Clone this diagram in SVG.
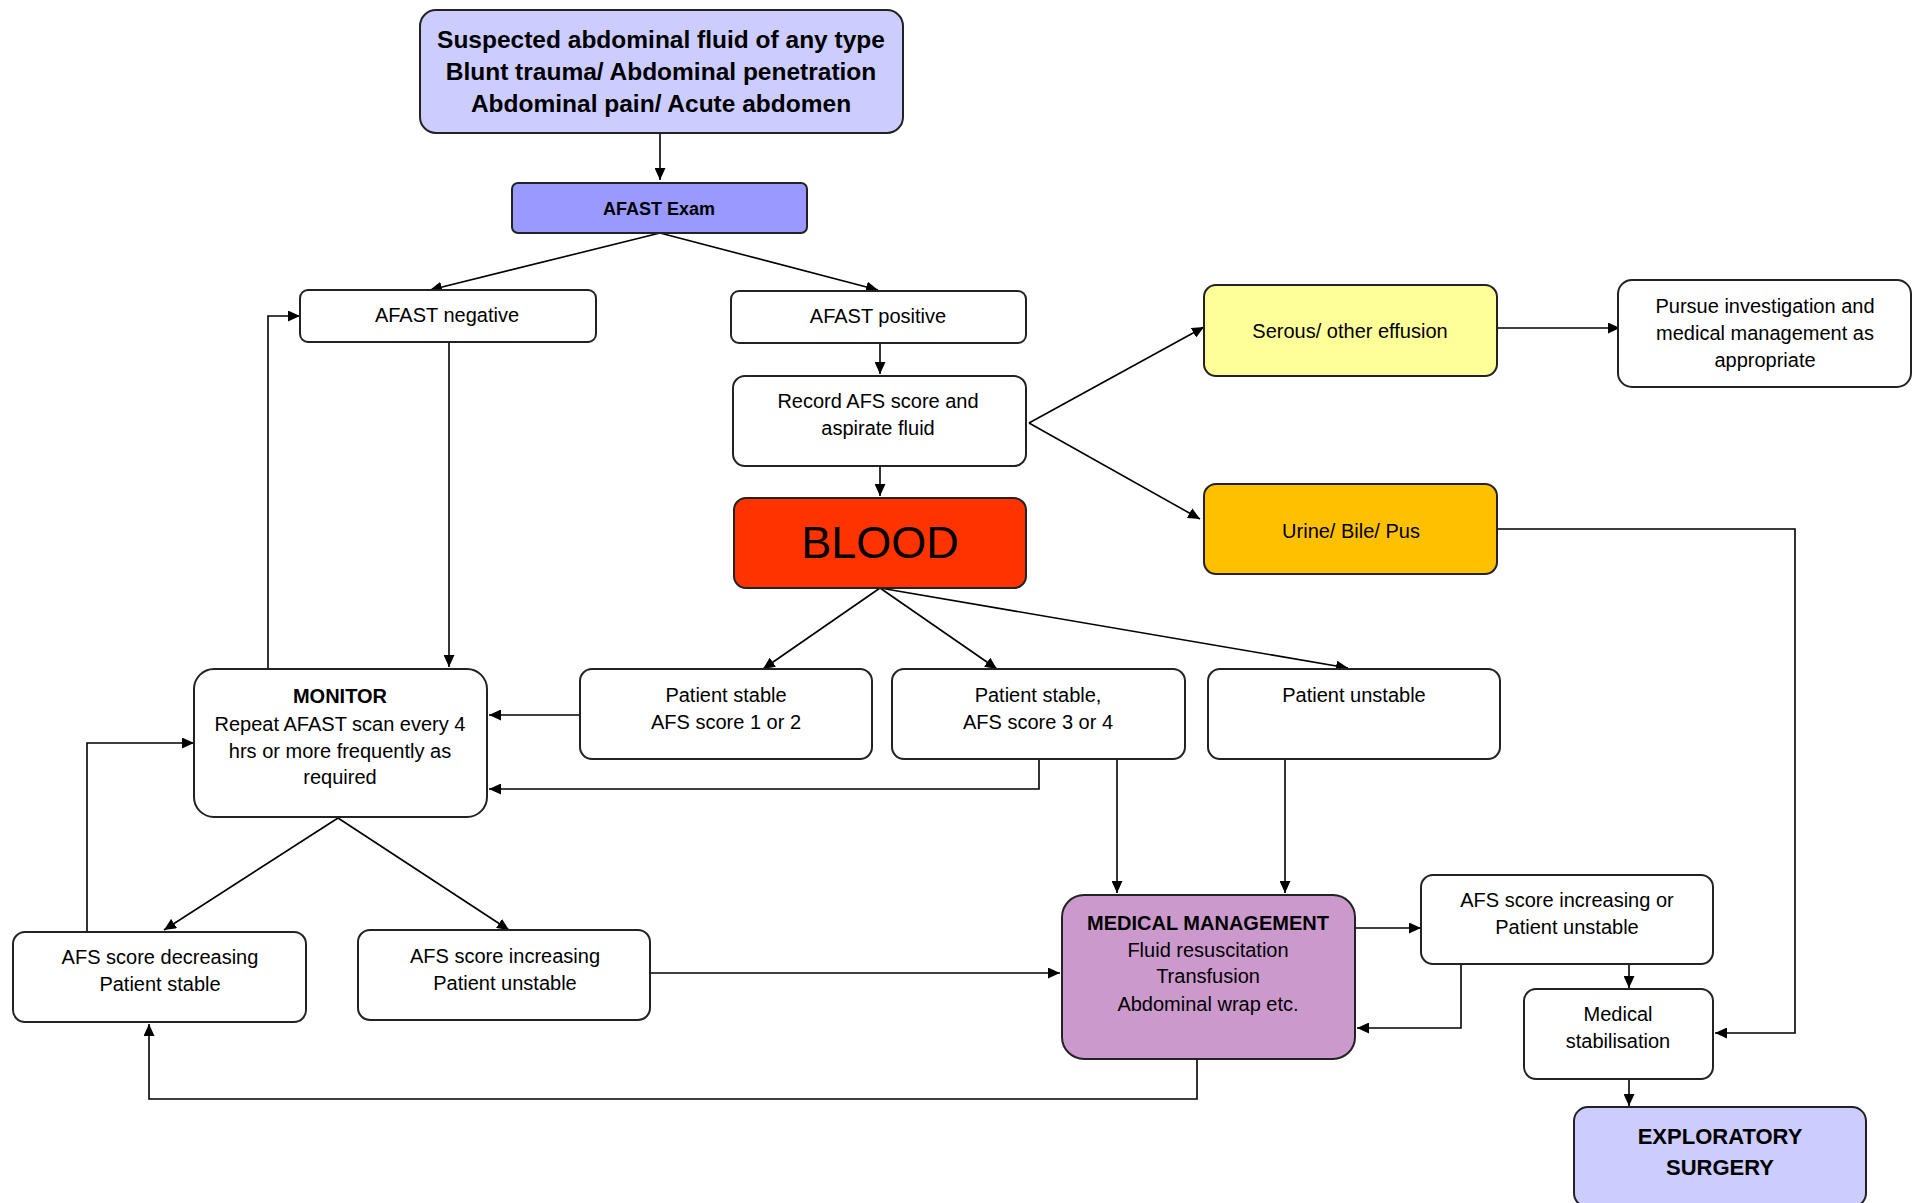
<svg xmlns="http://www.w3.org/2000/svg" width="1914" height="1203" viewBox="0 0 1914 1203">
<style>
.box{stroke:#222;stroke-width:2}
.w{fill:#fff}
.t{font-family:"Liberation Sans",Arial,sans-serif;font-size:20px;fill:#000;text-anchor:middle}
.b{font-weight:bold}
.c{fill:none;stroke:#000;stroke-width:1.6}
</style>
<defs>
<marker id="ah" markerUnits="userSpaceOnUse" markerWidth="12" markerHeight="11" refX="12" refY="5.5" orient="auto">
<path d="M0,0 L12,5.5 L0,11 z" fill="#000"/>
</marker>
</defs>
<rect width="1914" height="1203" fill="#fff"/>

<g id="connectors">
<path class="c" d="M660,133 V180" marker-end="url(#ah)"/>
<path class="c" d="M660,233 L430,290" marker-end="url(#ah)"/>
<path class="c" d="M660,233 L878,290" marker-end="url(#ah)"/>
<path class="c" d="M880,343 V374" marker-end="url(#ah)"/>
<path class="c" d="M880,466 V496" marker-end="url(#ah)"/>
<path class="c" d="M1029,423 L1204,327" marker-end="url(#ah)"/>
<path class="c" d="M1029,423 L1200,519" marker-end="url(#ah)"/>
<path class="c" d="M1497,328 H1620" marker-end="url(#ah)"/>
<path class="c" d="M1497,529 H1795 V1033 H1715" marker-end="url(#ah)"/>
<path class="c" d="M880,588 L763,669" marker-end="url(#ah)"/>
<path class="c" d="M880,588 L997,669" marker-end="url(#ah)"/>
<path class="c" d="M880,588 L1348,668" marker-end="url(#ah)"/>
<path class="c" d="M449,342 V667" marker-end="url(#ah)"/>
<path class="c" d="M268,669 V316 H300" marker-end="url(#ah)"/>
<path class="c" d="M580,715 H489" marker-end="url(#ah)"/>
<path class="c" d="M1039,759 V789 H489" marker-end="url(#ah)"/>
<path class="c" d="M1117,759 V893" marker-end="url(#ah)"/>
<path class="c" d="M1285,759 V893" marker-end="url(#ah)"/>
<path class="c" d="M338,818 L164,930" marker-end="url(#ah)"/>
<path class="c" d="M338,818 L509,930" marker-end="url(#ah)"/>
<path class="c" d="M87,932 V743 H194" marker-end="url(#ah)"/>
<path class="c" d="M650,973 H1060" marker-end="url(#ah)"/>
<path class="c" d="M1197,1059 V1099 H149 V1024" marker-end="url(#ah)"/>
<path class="c" d="M1355,928 H1421" marker-end="url(#ah)"/>
<path class="c" d="M1461,964 V1028 H1357" marker-end="url(#ah)"/>
<path class="c" d="M1629,964 V988" marker-end="url(#ah)"/>
<path class="c" d="M1629,1079 V1106" marker-end="url(#ah)"/>
</g>

<g id="n-start">
<rect class="box" x="420" y="10" width="483" height="123" rx="16" fill="#ccccff"/>
<text class="t b" x="661" y="48" style="font-size:24.5px">Suspected abdominal fluid of any type</text>
<text class="t b" x="661" y="80" style="font-size:24.5px">Blunt trauma/ Abdominal penetration</text>
<text class="t b" x="661" y="112" style="font-size:24.5px">Abdominal pain/ Acute abdomen</text>
</g>

<g id="n-afast">
<rect class="box" x="512" y="183" width="295" height="50" rx="6" fill="#9999ff"/>
<text class="t b" x="659" y="215" style="font-size:18px">AFAST Exam</text>
</g>

<g id="n-neg">
<rect class="box w" x="300" y="290" width="296" height="52" rx="8"/>
<text class="t" x="447" y="322">AFAST negative</text>
</g>

<g id="n-pos">
<rect class="box w" x="731" y="291" width="295" height="52" rx="8"/>
<text class="t" x="878" y="323">AFAST positive</text>
</g>

<g id="n-record">
<rect class="box w" x="733" y="376" width="293" height="90" rx="12"/>
<text class="t" x="878" y="408">Record AFS score and</text>
<text class="t" x="878" y="435">aspirate fluid</text>
</g>

<g id="n-blood">
<rect class="box" x="734" y="498" width="292" height="90" rx="12" fill="#ff3300"/>
<text class="t" x="880" y="558" style="font-size:45px">BLOOD</text>
</g>

<g id="n-serous">
<rect class="box" x="1204" y="285" width="293" height="91" rx="12" fill="#ffff99"/>
<text class="t" x="1350" y="338">Serous/ other effusion</text>
</g>

<g id="n-pursue">
<rect class="box w" x="1618" y="280" width="293" height="107" rx="14"/>
<text class="t" x="1765" y="313">Pursue investigation and</text>
<text class="t" x="1765" y="340">medical management as</text>
<text class="t" x="1765" y="367">appropriate</text>
</g>

<g id="n-urine">
<rect class="box" x="1204" y="484" width="293" height="90" rx="12" fill="#ffc000"/>
<text class="t" x="1351" y="538">Urine/ Bile/ Pus</text>
</g>

<g id="n-monitor">
<rect class="box w" x="194" y="669" width="293" height="148" rx="20"/>
<text class="t b" x="340" y="703">MONITOR</text>
<text class="t" x="340" y="731">Repeat AFAST scan every 4</text>
<text class="t" x="340" y="758">hrs or more frequently as</text>
<text class="t" x="340" y="784">required</text>
</g>

<g id="n-stable12">
<rect class="box w" x="580" y="669" width="292" height="90" rx="12"/>
<text class="t" x="726" y="702">Patient stable</text>
<text class="t" x="726" y="729">AFS score 1 or 2</text>
</g>

<g id="n-stable34">
<rect class="box w" x="892" y="669" width="293" height="90" rx="12"/>
<text class="t" x="1038" y="702">Patient stable,</text>
<text class="t" x="1038" y="729">AFS score 3 or 4</text>
</g>

<g id="n-unstable">
<rect class="box w" x="1208" y="669" width="292" height="90" rx="12"/>
<text class="t" x="1354" y="702">Patient unstable</text>
</g>

<g id="n-dec">
<rect class="box w" x="13" y="932" width="293" height="90" rx="12"/>
<text class="t" x="160" y="964">AFS score decreasing</text>
<text class="t" x="160" y="991">Patient stable</text>
</g>

<g id="n-inc">
<rect class="box w" x="358" y="930" width="292" height="90" rx="12"/>
<text class="t" x="505" y="963">AFS score increasing</text>
<text class="t" x="505" y="990">Patient unstable</text>
</g>

<g id="n-medmgmt">
<rect class="box" x="1062" y="895" width="293" height="164" rx="22" fill="#cc99cc"/>
<text class="t b" x="1208" y="930">MEDICAL MANAGEMENT</text>
<text class="t" x="1208" y="957">Fluid resuscitation</text>
<text class="t" x="1208" y="983">Transfusion</text>
<text class="t" x="1208" y="1011">Abdominal wrap etc.</text>
</g>

<g id="n-incor">
<rect class="box w" x="1421" y="875" width="292" height="89" rx="12"/>
<text class="t" x="1567" y="907">AFS score increasing or</text>
<text class="t" x="1567" y="934">Patient unstable</text>
</g>

<g id="n-stab">
<rect class="box w" x="1524" y="989" width="189" height="90" rx="12"/>
<text class="t" x="1618" y="1021">Medical</text>
<text class="t" x="1618" y="1048">stabilisation</text>
</g>

<g id="n-surgery">
<rect class="box" x="1574" y="1107" width="292" height="100" rx="14" fill="#ccccff"/>
<text class="t b" x="1720" y="1144" style="font-size:22px">EXPLORATORY</text>
<text class="t b" x="1720" y="1175" style="font-size:22px">SURGERY</text>
</g>
</svg>
